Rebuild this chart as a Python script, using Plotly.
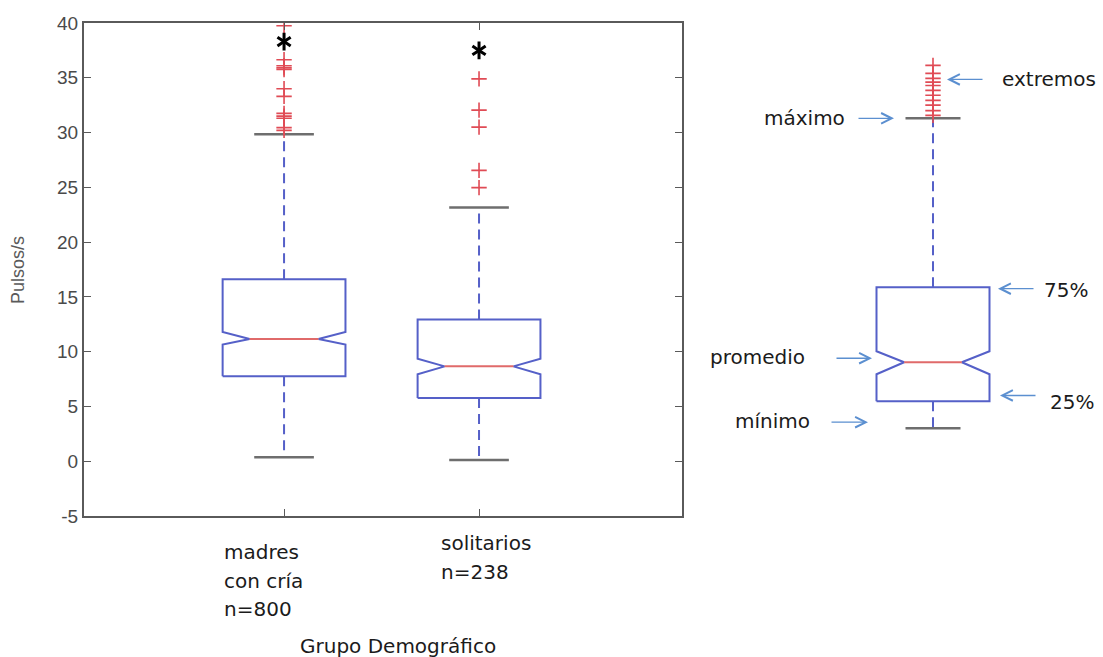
import plotly.graph_objects as go

# ---- Boxplot summaries: pulses per second by demographic group ----
group_pos = [1, 2]
group_lines = [["madres", "con cría"], ["solitarios"]]
group_n = [800, 238]
q1 = [7.75, 5.76]
median = [11.15, 8.66]
q3 = [16.6, 12.93]
notch_lo = [10.65, 7.93]
notch_hi = [11.8, 9.36]
whisker_lo = [0.37, 0.12]
whisker_hi = [29.85, 23.17]
outliers = [
    [39.75, 36.65, 36.1, 35.9, 35.75, 34.0, 33.3, 31.75, 31.5, 31.3, 30.45, 30.2],
    [34.9, 32.05, 30.5, 26.55, 24.97],
]
signif_y = [38.3, 37.5]

# ---- Explanatory key box (same value scale) ----
key_q1 = 5.47
key_median = 9.03
key_q3 = 15.88
key_notch_lo = 7.94
key_notch_hi = 10.04
key_min = 3.01
key_max = 31.3
key_extremes = [36.13, 35.4, 34.95, 34.6, 34.3, 33.85, 33.4, 32.94, 32.5, 32.0, 31.57]
key_labels = ["extremos", "máximo", "75%", "promedio", "25%", "mínimo"]
key_label_y = [34.85, 31.3, 15.6, 9.49, 5.38, 3.65]
key_arrow_y = [34.85, 31.3, 15.75, 9.4, 6.0, 3.56]

y_ticks = list(range(-5, 41, 5))
y_ticktext = [str(v) for v in y_ticks]

BLUE = "#5560c8"
RED = "#e06a6a"
OUT = "#e04b55"
GREY = "#6e6e6e"
ARROW = "#5b8fd0"
TXT = "#1b1b1b"

W, H = 1103, 657
fig = go.Figure()


def add_box(xc, hw, inner, lo, nlo, med, nhi, hi, wlo, whi, cap, xa, ya):
    wi = hw * inner
    xs = [xc - hw, xc - hw, xc - wi, xc - hw, xc - hw, xc + hw, xc + hw, xc + wi, xc + hw, xc + hw, xc - hw]
    ys = [lo, nlo, med, nhi, hi, hi, nhi, med, nlo, lo, lo]
    common = dict(xaxis=xa, yaxis=ya, showlegend=False, hoverinfo="skip")
    # whiskers (dashed)
    fig.add_trace(go.Scatter(x=[xc, xc, None, xc, xc], y=[hi, whi, None, lo, wlo], mode="lines",
                             line=dict(color=BLUE, width=2, dash="10px,6px"), **common))
    # caps
    fig.add_trace(go.Scatter(x=[xc - cap, xc + cap, None, xc - cap, xc + cap], y=[whi, whi, None, wlo, wlo],
                             mode="lines", line=dict(color=GREY, width=2.5), **common))
    # notched box outline
    fig.add_trace(go.Scatter(x=xs, y=ys, mode="lines", line=dict(color=BLUE, width=2), **common))
    # median
    fig.add_trace(go.Scatter(x=[xc - wi, xc + wi], y=[med, med], mode="lines",
                             line=dict(color=RED, width=2), **common))


for i, xc in enumerate(group_pos):
    add_box(xc, 0.315, 0.56, q1[i], notch_lo[i], median[i], notch_hi[i], q3[i],
            whisker_lo[i], whisker_hi[i], 0.153, "x", "y")
    fig.add_trace(go.Scatter(x=[xc] * len(outliers[i]), y=outliers[i], mode="markers",
                             marker=dict(symbol="cross-thin", size=11, color=OUT, line=dict(color=OUT, width=1.6)),
                             showlegend=False, hoverinfo="skip"))

# significance asterisks
for sym in ["y-up-open", "y-down-open"]:
    fig.add_trace(go.Scatter(x=group_pos, y=signif_y, mode="markers",
                             marker=dict(symbol=sym, size=11, color="black", line=dict(color="black", width=3)),
                             showlegend=False, hoverinfo="skip"))

# key box drawn on a second, hidden pair of axes (x2 in pixel-like units)
KX = 933
add_box(KX, 56.5, 0.51, key_q1, key_notch_lo, key_median, key_notch_hi, key_q3,
        key_min, key_max, 27.5, "x2", "y2")
fig.add_trace(go.Scatter(x=[KX] * len(key_extremes), y=key_extremes, mode="markers", xaxis="x2", yaxis="y2",
                         marker=dict(symbol="cross-thin", size=11, color=OUT, line=dict(color=OUT, width=1.6)),
                         showlegend=False, hoverinfo="skip"))

annotations = []
# key labels and arrows: (label x, anchor, arrow head x, arrow tail x)
key_geom = [
    (1000, "left", 947, 984),
    (847, "right", 894, 857),
    (1042, "left", 998, 1035),
    (807, "right", 872, 835),
    (1048, "left", 1000, 1037),
    (812, "right", 868, 830),
]
for lab, ly, ay_, (tx, anc, hx, tx2) in zip(key_labels, key_label_y, key_arrow_y, key_geom):
    annotations.append(dict(x=tx, y=ly, xref="x2", yref="y2", text=lab, showarrow=False,
                            xanchor=anc, yanchor="middle", font=dict(family="DejaVu Sans", size=20, color=TXT)))
    annotations.append(dict(x=hx, y=ay_, xref="x2", yref="y2", ax=tx2, ay=ay_, axref="x2", ayref="y2",
                            text="", showarrow=True, arrowhead=5, arrowsize=1.6, arrowwidth=1.3,
                            arrowcolor=ARROW, standoff=0, startstandoff=0))

# group labels under the axis
label_shift = [-62, -40]
label_top = [552, 543]
for i, xc in enumerate(group_pos):
    lines = group_lines[i] + [f"n={group_n[i]}"]
    for k, line in enumerate(lines):
        annotations.append(dict(x=xc, xref="x", y=1 - (label_top[i] + 28.5 * k) / H, yref="paper",
                                text=line, showarrow=False, xanchor="left", yanchor="middle",
                                xshift=label_shift[i], font=dict(family="DejaVu Sans", size=20, color=TXT)))

annotations.append(dict(x=398 / W, y=1 - 646 / H, xref="paper", yref="paper", text="Grupo Demográfico",
                        showarrow=False, xanchor="center", yanchor="middle",
                        font=dict(family="DejaVu Sans", size=20, color=TXT)))
annotations.append(dict(x=18 / W, y=1 - 270 / H, xref="paper", yref="paper", text="Pulsos/s",
                        textangle=-90, showarrow=False, xanchor="center", yanchor="middle",
                        font=dict(family="Liberation Sans", size=18, color="#5a5a5a")))

ydom = [1 - 516 / H, 1 - 23 / H]
fig.update_layout(
    width=W, height=H, margin=dict(l=0, r=0, t=0, b=0),
    paper_bgcolor="white", plot_bgcolor="white",
    xaxis=dict(domain=[84 / W, 682 / W], range=[-0.026, 3.041], tickvals=group_pos, ticktext=["", ""],
               showline=True, linecolor="#5a5a5a", linewidth=2, mirror="allticks", automargin=False,
               ticks="inside", ticklen=7, tickcolor="#5a5a5a", showgrid=False, zeroline=False),
    yaxis=dict(domain=ydom, range=[-5, 40], tickvals=y_ticks, ticktext=y_ticktext,
               showline=True, linecolor="#5a5a5a", linewidth=2, mirror="allticks", automargin=False,
               ticks="inside", ticklen=7, tickcolor="#5a5a5a", showgrid=False, zeroline=False,
               tickfont=dict(family="Liberation Sans", size=19, color="#4a4a4a")),
    xaxis2=dict(domain=[700 / W, 1.0], range=[700, 1103], visible=False, anchor="y2", automargin=False),
    yaxis2=dict(domain=ydom, range=[-5, 40], visible=False, anchor="x2", automargin=False),
    annotations=annotations,
)

fig.write_html("out.html")
